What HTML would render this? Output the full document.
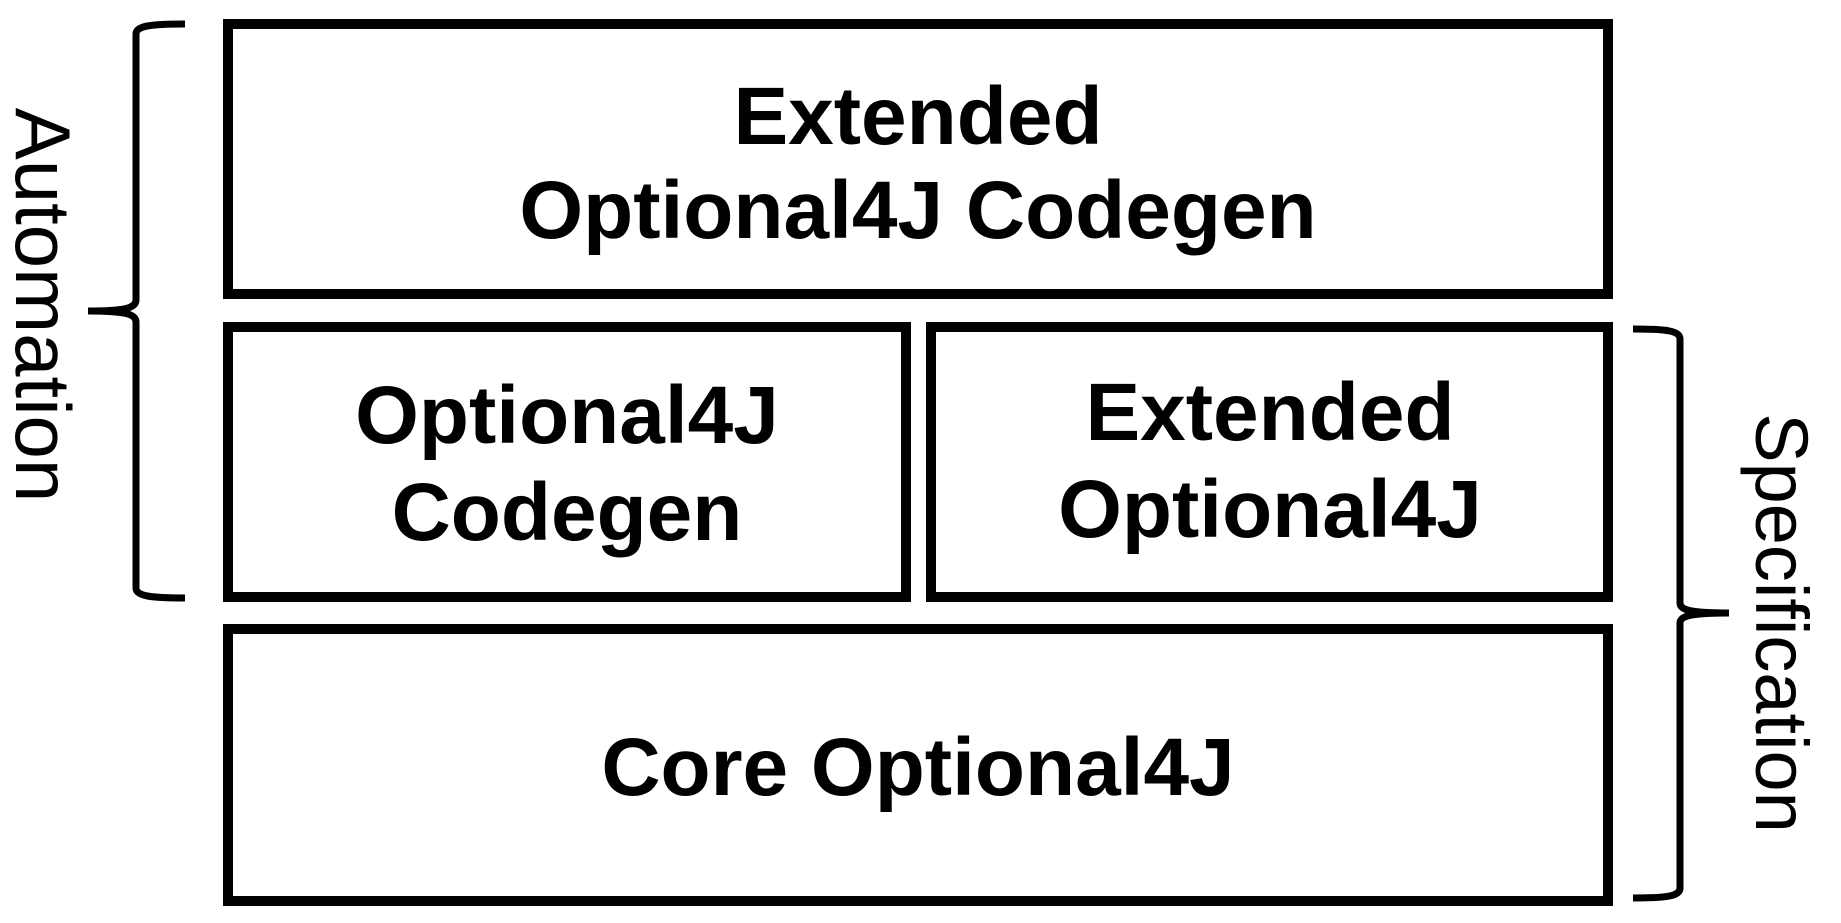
<!DOCTYPE html>
<html><head><meta charset="utf-8"><style>
html,body{margin:0;padding:0;background:#fff;}
svg{display:block;}
</style></head><body>
<svg width="1841" height="923" viewBox="0 0 1841 923" xmlns="http://www.w3.org/2000/svg">
<g fill="none" stroke="#000" stroke-width="10">
<rect x="228" y="24" width="1380" height="270"/>
<rect x="228" y="327" width="678" height="270"/>
<rect x="931" y="327" width="677" height="270"/>
<rect x="228" y="629" width="1380" height="272"/>
</g>
<g fill="none" stroke="#000" stroke-width="7">
<path d="M185,24 C150,24 136,26 136,34 L136,300 C136,308 125,311 88,311 C125,311 136,314 136,322 L136,588 C136,596 150,598 185,598"/>
<path d="M1633,329 C1668,329 1680,331 1680,339 L1680,603 C1680,610 1690,613 1729,613 C1690,613 1680,616 1680,623 L1680,888 C1680,896 1668,898 1633,898"/>
</g>
<g font-family="'Liberation Sans', sans-serif" font-weight="bold" font-size="82" text-anchor="middle" fill="#000">
<text x="918" y="144">Extended</text>
<text x="918" y="238">Optional4J Codegen</text>
<text x="567" y="443">Optional4J</text>
<text x="567" y="540">Codegen</text>
<text x="1270" y="440">Extended</text>
<text x="1270" y="537">Optional4J</text>
<text x="918" y="795">Core Optional4J</text>
</g>
<g font-family="'Liberation Sans', sans-serif" font-size="78" text-anchor="middle" fill="#000">
<text transform="translate(44,305) rotate(90)" y="28">Automation</text>
<text transform="translate(1783,623) rotate(90)" y="27" font-size="74">Specification</text>
</g>
</svg>
</body></html>
